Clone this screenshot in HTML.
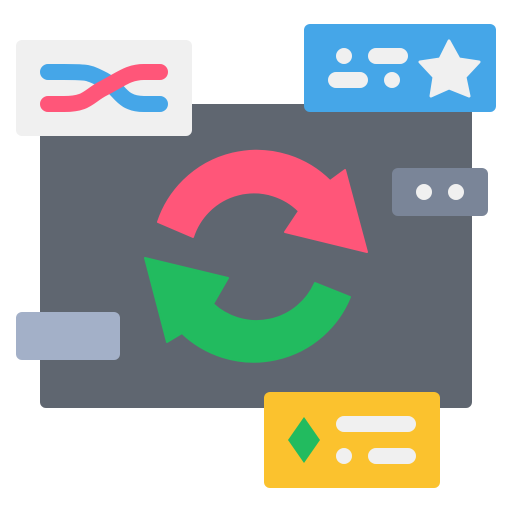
<!DOCTYPE html>
<html><head><style>html,body{margin:0;padding:0;background:#fff}svg{display:block}</style></head>
<body>
<svg width="512" height="512" viewBox="0 0 512 512" xmlns="http://www.w3.org/2000/svg">
<rect x="40" y="104" width="432" height="304" rx="6" fill="#5f6670"/>
<rect x="16" y="40" width="176" height="96" rx="6" fill="#f0f0f0"/>
<path d="M48 72 H64 C88 72 88 72 104 80 C120 88 120 104 144 104 H160" fill="none" stroke="#45a6e8" stroke-width="16" stroke-linecap="round"/>
<path d="M48 104 H64 C88 104 88 96 104 88 C120 80 128 72 144 72 H160" fill="none" stroke="#ff5679" stroke-width="16" stroke-linecap="round"/>
<rect x="304" y="24" width="192" height="88" rx="6" fill="#45a6e8"/>
<circle cx="344" cy="56" r="8" fill="#f0f0f0"/>
<rect x="368" y="48" width="40" height="16" rx="8" fill="#f0f0f0"/>
<rect x="328" y="72" width="40" height="16" rx="8" fill="#f0f0f0"/>
<circle cx="392" cy="80" r="8" fill="#f0f0f0"/>
<path d="M449 41 L459 59 L479 62 L465 77 L469 96 L449 88 L431 96 L434 77 L420 62 L440 59 Z" fill="#f0f0f0" stroke="#f0f0f0" stroke-width="3" stroke-linejoin="round"/>
<rect x="392" y="168" width="96" height="48" rx="6" fill="#7a8598"/>
<circle cx="424" cy="192" r="8" fill="#f0f0f0"/>
<circle cx="456" cy="192" r="8" fill="#f0f0f0"/>
<rect x="16" y="312" width="104" height="48" rx="6" fill="#a3b0c8"/>
<rect x="264" y="392" width="176" height="96" rx="6" fill="#fbc22e"/>
<path d="M304 417 L320 440 L304 463 L288 440 Z" fill="#22bb5f"/>
<rect x="336" y="416" width="80" height="16" rx="8" fill="#f0f0f0"/>
<circle cx="344" cy="456" r="8" fill="#f0f0f0"/>
<rect x="368" y="448" width="48" height="16" rx="8" fill="#f0f0f0"/>
<path d="M158 222 A104 104 0 0 1 330 181 L345 170 L367 252 L285 232 L299 211 A64 64 0 0 0 193 237 Z" fill="#ff5679" stroke="#ff5679" stroke-width="2" stroke-linejoin="round"/>
<path d="M350 297 A104 104 0 0 1 182 333 L167 342 L145 258 L228 278 L213 304 A64 64 0 0 0 315 283 Z" fill="#22bb5f" stroke="#22bb5f" stroke-width="2" stroke-linejoin="round"/>
</svg>
</body></html>
